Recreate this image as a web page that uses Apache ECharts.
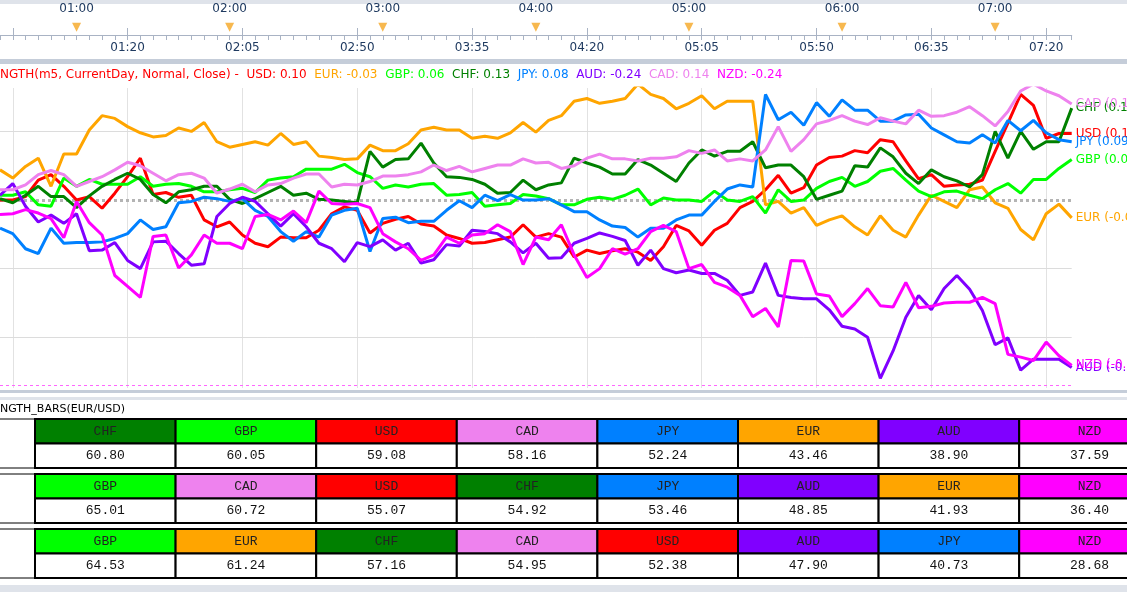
<!DOCTYPE html>
<html>
<head>
<meta charset="utf-8">
<script src="https://cdn.jsdelivr.net/npm/echarts@6/dist/echarts.min.js"></script>
<style>
html, body { margin: 0; padding: 0; background: #fff; }
#main { width: 1127px; height: 592px; }
</style>
</head>
<body>
<div id="main"></div>
<script>
// 5-minute bars from 00:30 to 07:30
var times = [];
for (var m = 30; m <= 450; m += 5) {
    times.push(('0' + Math.floor(m / 60)).slice(-2) + ':' + ('0' + (m % 60)).slice(-2));
}

var usd = [0,0,0.005,0.029,0.037,0.02,0,0.005,-0.012,0.01,0.034,0.061,0.008,0.011,0.004,0.007,-0.029,-0.039,-0.032,-0.051,-0.063,-0.068,-0.054,-0.055,-0.055,-0.044,-0.02,-0.01,-0.015,-0.048,-0.034,-0.028,-0.024,-0.035,-0.038,-0.051,-0.056,-0.063,-0.062,-0.058,-0.054,-0.036,-0.054,-0.049,-0.054,-0.083,-0.073,-0.078,-0.074,-0.071,-0.076,-0.088,-0.068,-0.037,-0.045,-0.066,-0.044,-0.034,-0.011,-0.002,0.015,0.036,0.01,0.018,0.051,0.062,0.064,0.072,0.069,0.088,0.085,0.057,0.031,0.037,0.02,0.022,0.023,0.029,0.071,0.112,0.154,0.138,0.09,0.097,0.097];
var eur = [0.044,0.032,0.049,0.061,0.02,0.067,0.067,0.102,0.123,0.119,0.107,0.098,0.092,0.094,0.105,0.1,0.113,0.085,0.077,0.081,0.085,0.08,0.097,0.081,0.085,0.064,0.062,0.059,0.06,0.08,0.072,0.072,0.082,0.102,0.106,0.102,0.102,0.09,0.093,0.09,0.098,0.113,0.099,0.116,0.123,0.144,0.148,0.141,0.144,0.148,0.169,0.154,0.148,0.133,0.141,0.152,0.133,0.144,0.144,0.144,-0.007,-0.002,-0.019,-0.011,-0.037,-0.029,-0.023,-0.039,-0.051,-0.023,-0.044,-0.054,-0.022,0.007,-0.002,-0.011,0.015,0.019,-0.004,-0.012,-0.043,-0.058,-0.02,-0.006,-0.026];
var gbp = [0.007,0.007,0.012,-0.007,-0.009,0.032,0.02,0.03,0.023,0.023,0.023,0.034,0.02,0.023,0.024,0.02,0.012,0.012,0.015,0.017,0.011,0.029,0.032,0.034,0.045,0.045,0.045,0.052,0.04,0.034,0.017,0.022,0.019,0.023,0.024,0.007,0.008,0.011,-0.009,-0.007,-0.005,0.008,0.006,0.002,-0.007,-0.007,0.001,0.004,0.001,0.007,0.016,-0.007,0.003,0,0,-0.002,0.013,0,-0.002,0.005,-0.019,0.015,-0.002,0,0.017,0.027,0.033,0.02,0.027,0.042,0.046,0.029,0.013,0.005,0.012,0.013,0.007,0.002,0.015,0.024,0.01,0.03,0.03,0.046,0.059];
var chf = [0.002,-0.004,0.007,0.02,0.005,0.005,-0.011,0.006,0.02,0.03,0.039,0.03,0.008,-0.004,0.012,0.015,0.02,0.02,0.001,-0.005,0.002,0.011,0.02,0.007,0.01,0.001,0,-0.002,-0.004,0.071,0.048,0.059,0.06,0.083,0.054,0.034,0.033,0.03,0.023,0.01,0.011,0.029,0.015,0.022,0.025,0.061,0.054,0.048,0.038,0.038,0.059,0.051,0.039,0.027,0.054,0.073,0.064,0.071,0.071,0.085,0.047,0.051,0.051,0.034,0.001,0.007,0.013,0.05,0.048,0.076,0.063,0.039,0.024,0.044,0.034,0.028,0.019,0.037,0.1,0.061,0.1,0.074,0.085,0.085,0.134];
var jpy = [-0.041,-0.049,-0.071,-0.078,-0.041,-0.063,-0.062,-0.062,-0.061,-0.056,-0.049,-0.029,-0.043,-0.039,-0.004,-0.002,0.004,0.002,-0.002,0.002,-0.015,-0.024,-0.046,-0.06,-0.046,-0.054,-0.022,-0.015,-0.012,-0.075,-0.027,-0.025,-0.033,-0.031,-0.031,-0.015,-0.001,-0.011,0.007,-0.001,0.008,0,0,0.002,-0.007,-0.017,-0.017,-0.029,-0.038,-0.04,-0.054,-0.041,-0.041,-0.029,-0.022,-0.022,-0.002,0.016,0.022,0.019,0.154,0.117,0.128,0.109,0.142,0.122,0.146,0.131,0.131,0.115,0.115,0.124,0.125,0.105,0.095,0.085,0.083,0.095,0.083,0.116,0.101,0.116,0.098,0.088,0.085];
var aud = [0.007,0.024,-0.009,-0.032,-0.022,-0.034,-0.02,-0.074,-0.073,-0.062,-0.088,-0.1,-0.061,-0.06,-0.078,-0.095,-0.093,-0.024,-0.005,0.004,-0.002,-0.02,-0.038,-0.02,-0.039,-0.063,-0.071,-0.09,-0.062,-0.068,-0.058,-0.073,-0.063,-0.092,-0.087,-0.065,-0.067,-0.044,-0.046,-0.049,-0.061,-0.077,-0.063,-0.085,-0.084,-0.063,-0.056,-0.048,-0.053,-0.059,-0.095,-0.073,-0.1,-0.106,-0.102,-0.107,-0.107,-0.117,-0.139,-0.134,-0.092,-0.139,-0.142,-0.144,-0.144,-0.16,-0.184,-0.188,-0.2,-0.26,-0.22,-0.171,-0.139,-0.16,-0.129,-0.11,-0.13,-0.161,-0.211,-0.201,-0.248,-0.232,-0.232,-0.232,-0.244];
var cad = [0.015,0.015,0.022,0.037,0.043,0.037,0.02,0.027,0.034,0.044,0.055,0.05,0.039,0.028,0.037,0.039,0.032,0.01,0.016,0.023,0.012,0.022,0.024,0.032,0.038,0.038,0.019,0.023,0.022,0.027,0.035,0.035,0.037,0.041,0.051,0.043,0.049,0.041,0.046,0.051,0.051,0.06,0.054,0.055,0.046,0.05,0.061,0.067,0.06,0.06,0.057,0.061,0.061,0.063,0.072,0.068,0.073,0.057,0.06,0.057,0.073,0.107,0.071,0.088,0.111,0.116,0.123,0.115,0.11,0.12,0.115,0.111,0.131,0.122,0.123,0.128,0.136,0.123,0.108,0.129,0.159,0.169,0.159,0.152,0.14];
var nzd = [-0.021,-0.02,-0.014,-0.019,-0.027,-0.055,-0.002,-0.033,-0.051,-0.11,-0.126,-0.142,-0.053,-0.051,-0.099,-0.08,-0.051,-0.063,-0.063,-0.071,-0.024,-0.021,-0.029,-0.016,-0.033,0.013,-0.005,-0.006,-0.005,-0.011,-0.049,-0.061,-0.071,-0.088,-0.08,-0.054,-0.063,-0.051,-0.049,-0.036,-0.046,-0.094,-0.054,-0.058,-0.036,-0.08,-0.113,-0.1,-0.071,-0.079,-0.071,-0.046,-0.037,-0.046,-0.1,-0.094,-0.12,-0.127,-0.139,-0.17,-0.158,-0.185,-0.088,-0.089,-0.137,-0.14,-0.17,-0.151,-0.129,-0.154,-0.156,-0.12,-0.157,-0.155,-0.15,-0.149,-0.149,-0.142,-0.151,-0.225,-0.229,-0.234,-0.207,-0.227,-0.241];

var names = ['USD', 'EUR', 'GBP', 'CHF', 'JPY', 'AUD', 'CAD', 'NZD'];
var lines = [usd, eur, gbp, chf, jpy, aud, cad, nzd];
var colors = {
    USD: '#ff0000', EUR: '#ffa500', GBP: '#00ff00', CHF: '#008000',
    JPY: '#0080ff', AUD: '#8000ff', CAD: '#ee82ee', NZD: '#ff00ff'
};
var legendVals = ['0.10', '-0.03', '0.06', '0.13', '0.08', '-0.24', '0.14', '-0.24'];

// strength bars tables
var table1Names = ['CHF', 'GBP', 'USD', 'CAD', 'JPY', 'EUR', 'AUD', 'NZD'];
var table1Vals = ['60.80', '60.05', '59.08', '58.16', '52.24', '43.46', '38.90', '37.59'];
var table2Names = ['GBP', 'CAD', 'USD', 'CHF', 'JPY', 'AUD', 'EUR', 'NZD'];
var table2Vals = ['65.01', '60.72', '55.07', '54.92', '53.46', '48.85', '41.93', '36.40'];
var table3Names = ['GBP', 'EUR', 'CHF', 'CAD', 'USD', 'AUD', 'JPY', 'NZD'];
var table3Vals = ['64.53', '61.24', '57.16', '54.95', '52.38', '47.90', '40.73', '28.68'];

var hourIdx = [6, 18, 30, 42, 54, 66, 78];

var chart = echarts.init(document.getElementById('main'));

var graphics = [];
// separators
graphics.push({type: 'rect', shape: {x: 0, y: 0, width: 1127, height: 4}, style: {fill: '#dfe3ea'}});
graphics.push({type: 'rect', shape: {x: 0, y: 59, width: 1127, height: 5}, style: {fill: '#c5cdd9'}});
graphics.push({type: 'rect', shape: {x: 0, y: 390, width: 1127, height: 3}, style: {fill: '#c5cdd9'}});
graphics.push({type: 'rect', shape: {x: 0, y: 397, width: 1127, height: 3}, style: {fill: '#dfe3ea'}});
graphics.push({type: 'rect', shape: {x: 0, y: 585, width: 1127, height: 7}, style: {fill: '#dfe3ea'}});

// legend line
var rich = {n: {fill: '#ff0000'}};
var txt = '{n|NGTH(m5, CurrentDay, Normal, Close) - }';
names.forEach(function (n, i) {
    rich['c' + i] = {fill: colors[n]};
    txt += ' {c' + i + '|' + n + ': ' + legendVals[i] + ' }';
});
graphics.push({type: 'text', x: 0, y: 69, style: {text: txt, rich: rich, font: '12px "DejaVu Sans"'}});
graphics.push({type: 'text', x: 0, y: 404, style: {text: 'NGTH_BARS(EUR/USD)', font: '11px "DejaVu Sans"', fill: '#000'}});

// tables
function addTable(tn, tv, top) {
    var cw = 140.6, h = 24.5;
    graphics.push({type: 'line', shape: {x1: 0, y1: top, x2: 35, y2: top}, style: {stroke: '#000', lineWidth: 1}});
    graphics.push({type: 'line', shape: {x1: 0, y1: top + 2 * h, x2: 35, y2: top + 2 * h}, style: {stroke: '#000', lineWidth: 1}});
    tn.forEach(function (n, k) {
        var x = 35 + k * cw;
        graphics.push({type: 'rect', shape: {x: x, y: top, width: cw, height: h},
            style: {fill: colors[n], stroke: '#000', lineWidth: 2}});
        graphics.push({type: 'rect', shape: {x: x, y: top + h, width: cw, height: h},
            style: {fill: '#fff', stroke: '#000', lineWidth: 2}});
        graphics.push({type: 'text', x: x + cw / 2, y: top + h / 2, style: {text: n, font: '13px "Liberation Mono"',
            fill: '#222', align: 'center', verticalAlign: 'middle'}});
        graphics.push({type: 'text', x: x + cw / 2, y: top + h * 1.5, style: {text: tv[k], font: '13px "Liberation Mono"',
            fill: '#111', align: 'center', verticalAlign: 'middle'}});
    });
}
addTable(table1Names, table1Vals, 419);
addTable(table2Names, table2Vals, 474);
addTable(table3Names, table3Vals, 529);

var series = names.map(function (n, i) {
    var s = {
        name: n, type: 'line', data: lines[i], xAxisIndex: 0, yAxisIndex: 0,
        symbol: 'none', lineStyle: {width: 3, color: colors[n]}, itemStyle: {color: colors[n]},
        z: 5,
        endLabel: {show: true, color: colors[n], fontSize: 12, fontFamily: 'DejaVu Sans', distance: 4,
            formatter: function (p) { return n + ' (' + p.value.toFixed(2) + ')'; }}
    };
    if (i === 0) {
        s.markLine = {
            silent: true, symbol: 'none', label: {show: false}, z: 1,
            data: [
                {yAxis: 0.1, lineStyle: {color: '#dcdcdc', type: 'solid', width: 1}},
                {yAxis: -0.1, lineStyle: {color: '#dcdcdc', type: 'solid', width: 1}},
                {yAxis: -0.2, lineStyle: {color: '#dcdcdc', type: 'solid', width: 1}},
                {yAxis: 0, lineStyle: {color: '#b4b4b4', type: [3, 3], width: 3}},
                {yAxis: -0.272, lineStyle: {color: '#ff66ff', type: [3, 3], width: 1}}
            ]
        };
    }
    return s;
});
series.push({
    type: 'scatter', xAxisIndex: 1, yAxisIndex: 1, silent: true,
    symbol: 'triangle', symbolRotate: 180, symbolSize: [9, 9],
    itemStyle: {color: '#f5a623'},
    data: hourIdx.map(function (i) { return [times[i], 0.55]; })
});

chart.setOption({
    animation: false,
    backgroundColor: '#fff',
    textStyle: {fontFamily: 'DejaVu Sans'},
    grid: [
        {left: -1.8, right: 55.3, top: 88, height: 300},
        {left: -1.8, right: 55.3, top: 21, height: 14}
    ],
    xAxis: [
        {
            gridIndex: 0, type: 'category', data: times, boundaryGap: false, position: 'top', offset: 26,
            axisLine: {show: false}, axisTick: {show: false},
            axisLabel: {color: '#1f3a60', fontSize: 12, interval: function (i) { return i % 9 === 1 && i > 1; }},
            splitLine: {show: true, interval: function (i) { return i % 9 === 1; }, lineStyle: {color: '#e2e2e2'}}
        },
        {
            gridIndex: 1, type: 'category', data: times, boundaryGap: false, position: 'top',
            axisLine: {lineStyle: {color: '#a9b3c4'}},
            axisTick: {inside: true, length: 5, interval: 0, lineStyle: {color: '#a9b3c4'}},
            axisLabel: {color: '#1f3a60', fontSize: 12, margin: 6,
                interval: function (i) { return (i - 6) % 12 === 0 && i >= 6; },
                formatter: function (v) { return v; }}
        },
        {
            gridIndex: 1, type: 'category', data: times, boundaryGap: false, position: 'bottom',
            axisLine: {lineStyle: {color: '#a9b3c4'}}, axisLabel: {show: false},
            axisTick: {inside: true, length: 7, interval: function (i) { return i % 9 === 1; }, lineStyle: {color: '#a9b3c4'}}
        }
    ],
    yAxis: [
        {gridIndex: 0, type: 'value', min: -0.274, max: 0.1633, show: false, splitLine: {show: false}},
        {gridIndex: 1, type: 'value', min: 0, max: 1, show: false, splitLine: {show: false}}
    ],
    graphic: graphics,
    series: series
});
</script>
</body>
</html>
